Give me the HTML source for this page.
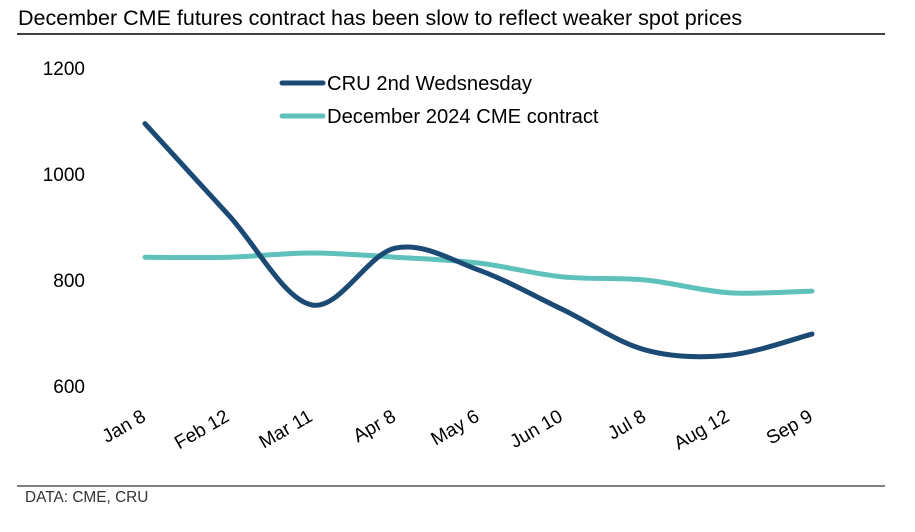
<!DOCTYPE html>
<html><head><meta charset="utf-8"><style>
body{margin:0;background:#fff;font-family:"Liberation Sans",Arial,sans-serif;}
svg text{font-family:"Liberation Sans",Arial,sans-serif;}
</style></head><body>
<svg id="chart" width="915" height="527" viewBox="0 0 915 527">
<text x="18" y="25" font-size="21.5" fill="#000">December CME futures contract has been slow to reflect weaker spot prices</text>
<line x1="17" y1="34" x2="885" y2="34" stroke="#000" stroke-width="1.5"/>
<line x1="17" y1="486" x2="885" y2="486" stroke="#000" stroke-width="1"/>
<text x="25" y="502" font-size="15.4" fill="#333">DATA: CME, CRU</text>
<g id="yaxis"></g>
<g id="xaxis"></g>
<g id="series"></g>
<g>
<g><line x1="282" y1="83" x2="323" y2="83" stroke="#1b4a75" stroke-width="5" stroke-linecap="round"/><text x="327" y="90" font-size="20.2" fill="#000">CRU 2nd Wedsnesday</text></g>
<g><line x1="282" y1="116" x2="323" y2="116" stroke="#5fc1bb" stroke-width="5" stroke-linecap="round"/><text x="327" y="123" font-size="20.2" fill="#000">December 2024 CME contract</text></g>
</g>
</svg>
<script>
const categories=["Jan 8","Feb 12","Mar 11","Apr 8","May 6","Jun 10","Jul 8","Aug 12","Sep 9"];
const cruValues=[1095,923,753,860,819,745,668,658,698];
const cmeValues=[843,843,851,843,832,806,800,776,779];
const yTicks=[600,800,1000,1200];
const NS="http://www.w3.org/2000/svg";
const x0=145,x1=812,yTop=68,yBot=386;
function xScale(i){return x0+(x1-x0)*i/(categories.length-1);}
function yScale(v){return yBot-(v-600)/600*(yBot-yTop);}
function mk(tag,attrs,parent){const e=document.createElementNS(NS,tag);for(const k in attrs)e.setAttribute(k,attrs[k]);parent.appendChild(e);return e;}
const ya=document.getElementById('yaxis');
yTicks.forEach(t=>{const e=mk('text',{x:85,y:yScale(t)+7,'font-size':19,'text-anchor':'end',fill:'#000'},ya);


e.textContent=t;});
const xa=document.getElementById('xaxis');
categories.forEach((c,i)=>{const x=xScale(i)+2,y=420;const e=mk('text',{x:x,y:y,'font-size':19,'text-anchor':'end',fill:'#000',transform:`rotate(-30 ${x} ${y})`},xa);


e.textContent=c;});
function path(vals){const p=vals.map((v,i)=>[xScale(i),yScale(v)]);let d=`M${p[0][0]},${p[0][1]}`;
for(let i=0;i<p.length-1;i++){const a=p[Math.max(i-1,0)],b=p[i],c=p[i+1],e=p[Math.min(i+2,p.length-1)];
const c1=[b[0]+(c[0]-a[0])/6,b[1]+(c[1]-a[1])/6],c2=[c[0]-(e[0]-b[0])/6,c[1]-(e[1]-b[1])/6];
d+=` C${c1[0]},${c1[1]} ${c2[0]},${c2[1]} ${c[0]},${c[1]}`;}return d;}
const sg=document.getElementById('series');
const l2=mk('path',{d:path(cmeValues),fill:'none',stroke:'#5fc1bb','stroke-width':5,'stroke-linecap':'round'},sg);


const l1=mk('path',{d:path(cruValues),fill:'none',stroke:'#1b4a75','stroke-width':5,'stroke-linecap':'round'},sg);


</script>
</body></html>
